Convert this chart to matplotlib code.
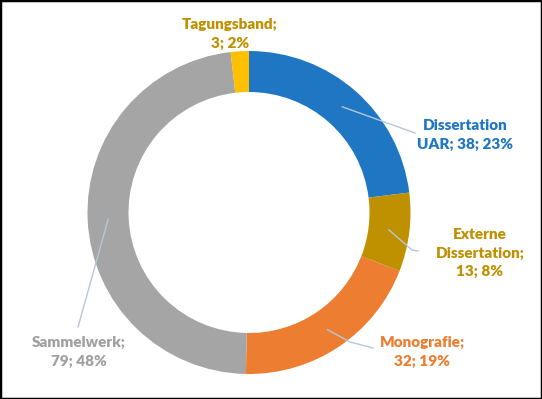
import matplotlib
matplotlib.use("Agg")
import matplotlib.pyplot as plt
from matplotlib.patches import Rectangle
import numpy as np

# data, clockwise from 12 o'clock
categories = ["Dissertation UAR", "Externe Dissertation", "Monografie", "Sammelwerk", "Tagungsband"]
values = [38, 13, 32, 79, 3]
colors = ["#1F77C4", "#BF9000", "#ED7D31", "#A5A5A5", "#FFC000"]
text_colors = ["#1F77C4", "#BF9000", "#ED7D31", "#A0A0A0", "#BF9000"]
labels = ["Dissertation\nUAR; 38; 23%", "Externe\nDissertation;\n13; 8%",
          "Monografie;\n32; 19%", "Sammelwerk;\n79; 48%", "Tagungsband;\n3; 2%"]

W, H = 542, 399
plt.rcParams['font.family'] = ['Lato', 'DejaVu Sans']

fig = plt.figure(figsize=(W / 100, H / 100), dpi=100)
ax = fig.add_axes([0, 0, 1, 1])

cx, cy, r = 249, 212.5, 161.5
ring = 41
# y axis is flipped, so counterclock=True draws clockwise on screen
wedges, _ = ax.pie(values, colors=colors, startangle=-90, counterclock=True,
                   center=(cx, cy), radius=r, frame=True,
                   wedgeprops=dict(width=ring, linewidth=0))
ax.set_xlim(0, W)
ax.set_ylim(H, 0)
ax.set_aspect("equal")
ax.axis("off")

# label placement (text centre, leader end)
text_pos = [(465, 135), (480, 253), (422, 352), (79, 352), (230, 34)]
leader_end = [[(415, 133)], [(412, 250), (418, 251)], [(350, 342), (373, 348)],
              [(78, 327)], None]

total = sum(values)
cum = np.cumsum([0] + values)
for i, lab in enumerate(labels):
    mid = (cum[i] + values[i] / 2) / total * 2 * np.pi
    rm = r - ring / 2
    sx, sy = cx + rm * np.sin(mid), cy - rm * np.cos(mid)
    if leader_end[i]:
        xs = [sx] + [p[0] for p in leader_end[i]]
        ys = [sy] + [p[1] for p in leader_end[i]]
        ax.plot(xs, ys, color="#B4C7DC", lw=1.0)
    ax.text(text_pos[i][0], text_pos[i][1], lab, color=text_colors[i],
            ha="center", va="center", fontsize=11, fontweight="heavy",
            linespacing=1.5)

fig.patches.append(Rectangle((0, 0), 1, 1, transform=fig.transFigure,
                             fill=False, edgecolor="black", lw=2.5))

fig.savefig("out.png", dpi=100)
